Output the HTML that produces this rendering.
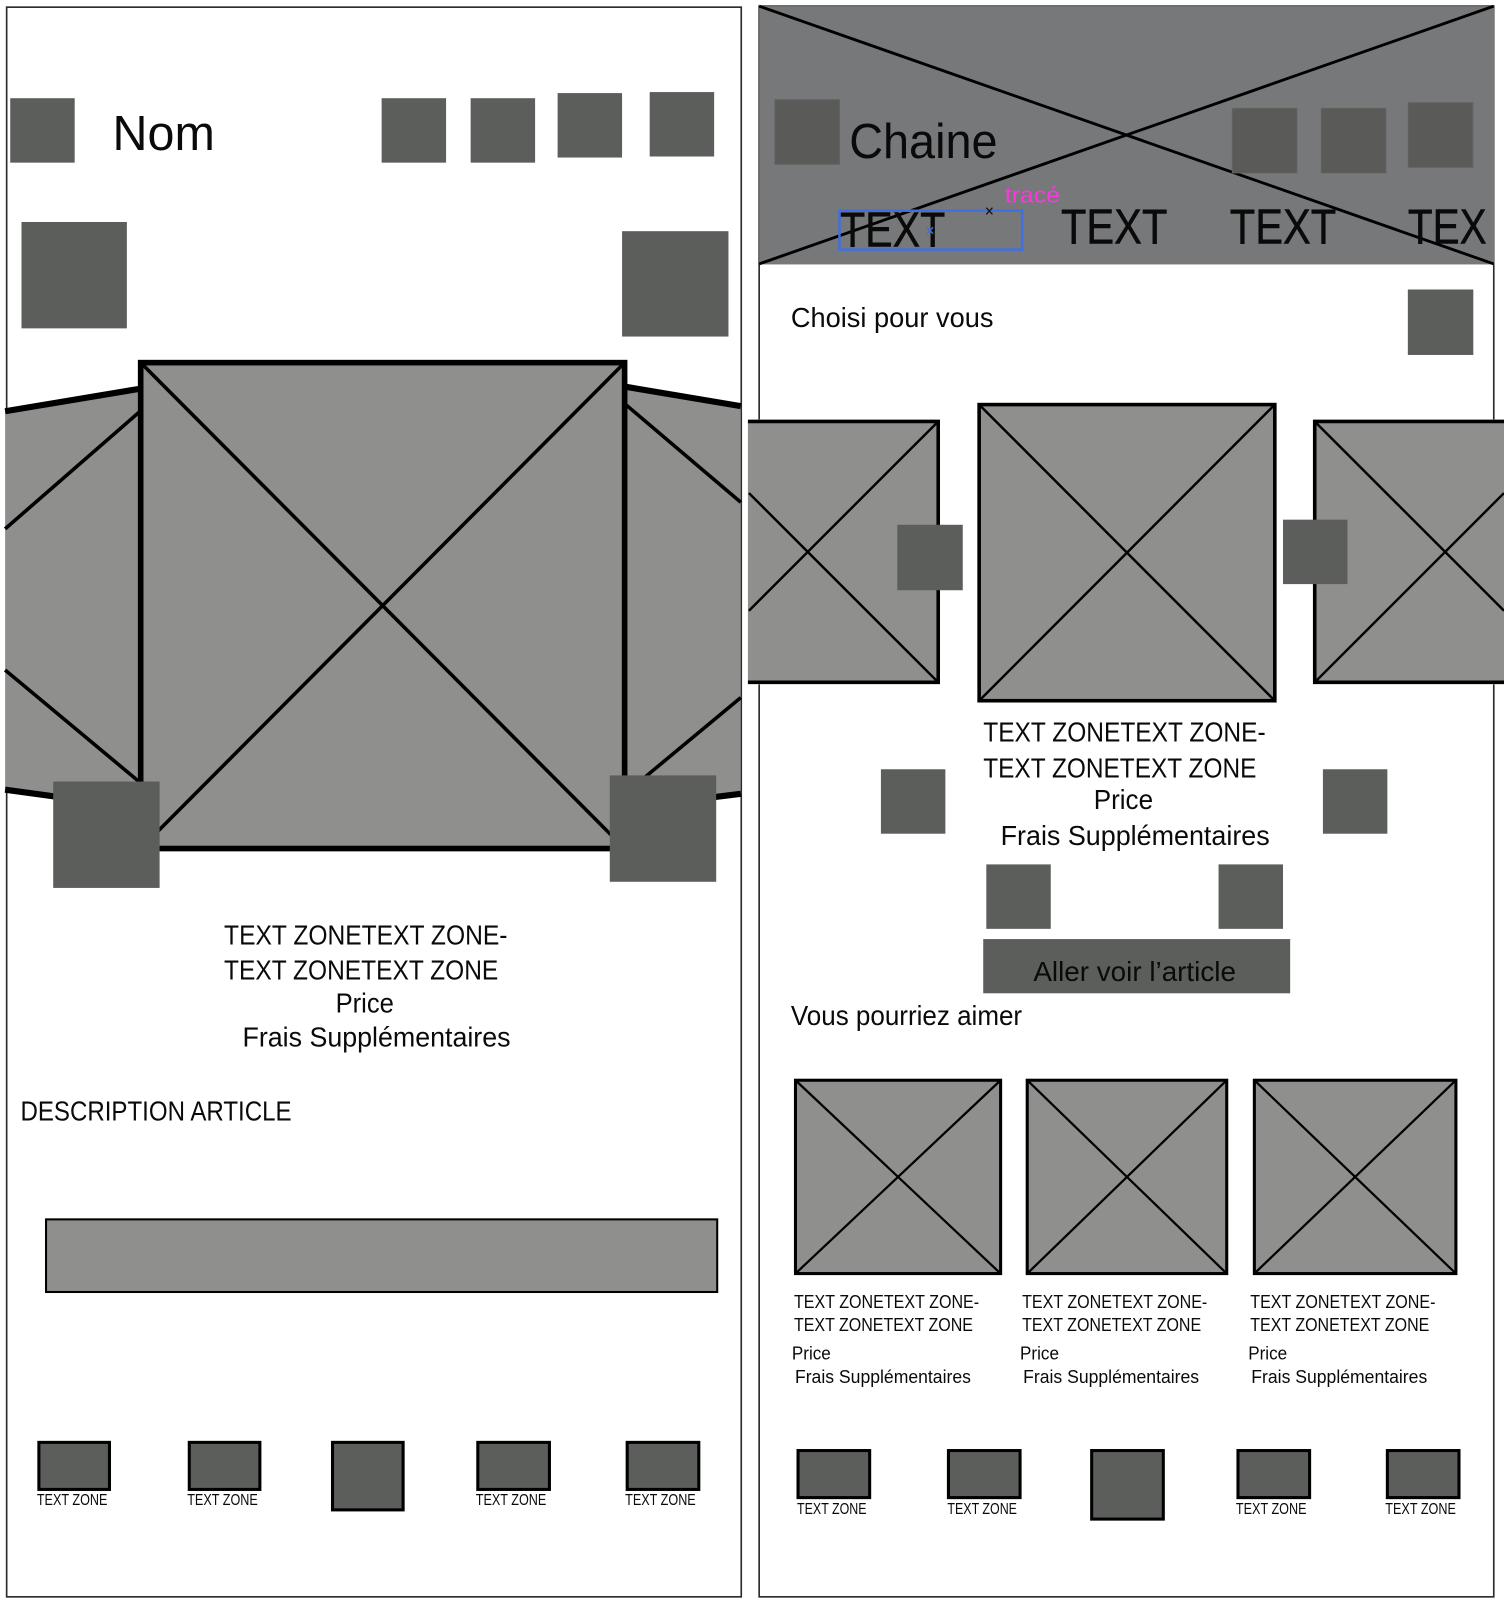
<!DOCTYPE html>
<html><head><meta charset="utf-8"><style>html,body{margin:0;padding:0;background:#fff}svg{display:block}
text{font-family:"Liberation Sans",sans-serif;fill:#0a0a0a}
.d{fill:#5c5e5b}.g{fill:#8f8f8d}.s{fill:#5a5b58;stroke:#606160;stroke-width:1}</style></head><body>
<svg xmlns="http://www.w3.org/2000/svg" width="1504" height="1604" viewBox="0 0 1470 1568" preserveAspectRatio="none">
<rect width="1470" height="1568" fill="#fff"/>
<!-- left frame -->
<rect x="6.5" y="7" width="718" height="1554" fill="#fff" stroke="#2a2a2a" stroke-width="1.6"/>
<g class="d"><rect x="10" y="96" width="63" height="63"/><rect x="373" y="96" width="63" height="63"/><rect x="460" y="96" width="63" height="63"/><rect x="545" y="91" width="63" height="63"/><rect x="635" y="90" width="63" height="63"/><rect x="21" y="217" width="103" height="104"/><rect x="608" y="226" width="104" height="103"/></g>
<text x="110" y="146.500" font-size="48" textLength="100" lengthAdjust="spacingAndGlyphs">Nom</text>
<!-- left carousel -->
<polygon class="g" points="5,402 137,380 137,790 5,772"/>
<polygon class="g" points="611,378 724,397 724,776 611,790"/>
<g stroke="#000" fill="none" stroke-linecap="butt">
<path d="M5 402L137 380M5 772L137 790M611 378L724 397M724 776L611 790" stroke-width="6"/>
<path d="M137 402L5 517M5 655L137 765M611 395L724 491M724 682L630 760" stroke-width="3.500"/>
</g>
<rect class="g" x="137.500" y="354.500" width="473" height="475" stroke="#000" stroke-width="5.500"/>
<path d="M137.500 354.500L610.500 829.500M610.500 354.500L137.500 829.500" stroke="#000" stroke-width="3.500"/>
<rect class="d" x="52" y="764" width="104" height="104"/><rect class="d" x="596" y="758" width="104" height="104"/>
<g font-size="27">
<text x="219" y="923.500" textLength="277" lengthAdjust="spacingAndGlyphs">TEXT ZONETEXT ZONE-</text>
<text x="219" y="957.500" textLength="268" lengthAdjust="spacingAndGlyphs">TEXT ZONETEXT ZONE</text>
<text x="328" y="990" textLength="57" lengthAdjust="spacingAndGlyphs">Price</text>
<text x="237" y="1023" textLength="262" lengthAdjust="spacingAndGlyphs">Frais Supplémentaires</text>
<text x="20" y="1095.500" textLength="265" lengthAdjust="spacingAndGlyphs">DESCRIPTION ARTICLE</text>
</g>
<rect class="g" x="45" y="1192" width="656" height="71" stroke="#000" stroke-width="2"/>
<g class="d" stroke="#000" stroke-width="3"><rect x="38" y="1410" width="69" height="46"/><rect x="185" y="1410" width="69" height="46"/><rect x="325" y="1410" width="69" height="66"/><rect x="467" y="1410" width="70" height="46"/><rect x="613" y="1410" width="70" height="46"/></g>
<g font-size="15">
<text x="36" y="1471" textLength="69" lengthAdjust="spacingAndGlyphs">TEXT ZONE</text>
<text x="183" y="1471" textLength="69" lengthAdjust="spacingAndGlyphs">TEXT ZONE</text>
<text x="465" y="1471" textLength="69" lengthAdjust="spacingAndGlyphs">TEXT ZONE</text>
<text x="611" y="1471" textLength="69" lengthAdjust="spacingAndGlyphs">TEXT ZONE</text>
</g>
<!-- right frame -->
<rect x="742" y="6" width="718" height="1555" fill="#fff" stroke="#2a2a2a" stroke-width="1.6"/>
<rect x="742" y="6" width="718.500" height="252.500" fill="#77787a"/>
<path d="M742 6L1460 258M1460 6L742 258" stroke="#000" stroke-width="2.800"/>
<g class="s"><rect x="757.500" y="97.500" width="63" height="63"/><rect x="1204.500" y="106" width="63" height="63"/><rect x="1291.500" y="106" width="63" height="63"/><rect x="1376.500" y="100.500" width="63" height="63"/></g>
<text x="830" y="154.500" font-size="48" textLength="145" lengthAdjust="spacingAndGlyphs">Chaine</text>
<g font-size="48" stroke="#0a0a0a" stroke-width="0.500">
<text x="821" y="241" textLength="103" lengthAdjust="spacingAndGlyphs">TEXT</text>
<text x="1037" y="238" textLength="104" lengthAdjust="spacingAndGlyphs">TEXT</text>
<text x="1202" y="238" textLength="104" lengthAdjust="spacingAndGlyphs">TEXT</text>
<text x="1376" y="238" textLength="77" lengthAdjust="spacingAndGlyphs">TEX</text>
</g>
<rect x="820.500" y="206" width="178.500" height="38" fill="none" stroke="#3f6fe0" stroke-width="2.400"/>
<text x="982" y="198" font-size="22" textLength="54" lengthAdjust="spacingAndGlyphs" style="fill:#ff35e0">tracé</text>
<path d="M964 203l6 6.500m0-6.500l-6 6.500" stroke="#111" stroke-width="1.200"/>
<path d="M906 222l6 6.500m0-6.500l-6 6.500" stroke="#3f6fe0" stroke-width="1.400"/>
<text x="773" y="319.500" font-size="27" textLength="198" lengthAdjust="spacingAndGlyphs">Choisi pour vous</text>
<rect class="d" x="1376" y="283" width="64" height="64"/>
<!-- right carousel -->
<rect x="731" y="410" width="186" height="259" fill="#fff"/>
<rect x="1285" y="410" width="185" height="259" fill="#fff"/>
<path class="g" d="M731 412H917V667H731Z"/>
<path d="M731 412H917V667H731" fill="none" stroke="#000" stroke-width="3.500"/>
<path d="M917 412L732 597M917 667L732 482" stroke="#000" stroke-width="2.400"/>
<path class="g" d="M1470 412H1285V667H1470Z"/>
<path d="M1470 412H1285V667H1470" fill="none" stroke="#000" stroke-width="3.500"/>
<path d="M1285 412L1470 597M1285 667L1470 482" stroke="#000" stroke-width="2.400"/>
<rect class="g" x="957" y="395.500" width="289" height="289.500" stroke="#000" stroke-width="3.500"/>
<path d="M957 395.500L1246 685M1246 395.500L957 685" stroke="#000" stroke-width="2.400"/>
<g class="d"><rect x="877" y="513" width="64" height="64"/><rect x="1254" y="508" width="63" height="63"/><rect x="861" y="752" width="63" height="63"/><rect x="1293" y="752" width="63" height="63"/><rect x="964" y="845" width="63" height="63"/><rect x="1191" y="845" width="63" height="63"/><rect x="961" y="918" width="300" height="53"/></g>
<g font-size="27">
<text x="961" y="725" textLength="276" lengthAdjust="spacingAndGlyphs">TEXT ZONETEXT ZONE-</text>
<text x="961" y="760" textLength="267" lengthAdjust="spacingAndGlyphs">TEXT ZONETEXT ZONE</text>
<text x="1069" y="791" textLength="58" lengthAdjust="spacingAndGlyphs">Price</text>
<text x="978" y="826" textLength="263" lengthAdjust="spacingAndGlyphs">Frais Supplémentaires</text>
<text x="1010" y="959" textLength="198" lengthAdjust="spacingAndGlyphs">Aller voir l’article</text>
<text x="773" y="1002" textLength="226" lengthAdjust="spacingAndGlyphs">Vous pourriez aimer</text>
</g>
<!-- cards -->
<g stroke="#000">
<rect class="g" x="777.500" y="1056" width="200.500" height="189" stroke-width="3"/>
<rect class="g" x="1004" y="1056" width="195" height="189" stroke-width="3"/>
<rect class="g" x="1226" y="1056" width="197" height="189" stroke-width="3"/>
<path d="M777.500 1056L978 1245M978 1056L777.500 1245M1004 1056L1199 1245M1199 1056L1004 1245M1226 1056L1423 1245M1423 1056L1226 1245" stroke-width="2.200" fill="none"/>
</g>
<g font-size="18">
<text x="776" y="1278.500" textLength="181" lengthAdjust="spacingAndGlyphs">TEXT ZONETEXT ZONE-</text>
<text x="776" y="1301" textLength="175" lengthAdjust="spacingAndGlyphs">TEXT ZONETEXT ZONE</text>
<text x="774" y="1329" textLength="38" lengthAdjust="spacingAndGlyphs">Price</text>
<text x="777" y="1352" textLength="172" lengthAdjust="spacingAndGlyphs">Frais Supplémentaires</text>
<text x="999" y="1278.500" textLength="181" lengthAdjust="spacingAndGlyphs">TEXT ZONETEXT ZONE-</text>
<text x="999" y="1301" textLength="175" lengthAdjust="spacingAndGlyphs">TEXT ZONETEXT ZONE</text>
<text x="997" y="1329" textLength="38" lengthAdjust="spacingAndGlyphs">Price</text>
<text x="1000" y="1352" textLength="172" lengthAdjust="spacingAndGlyphs">Frais Supplémentaires</text>
<text x="1222" y="1278.500" textLength="181" lengthAdjust="spacingAndGlyphs">TEXT ZONETEXT ZONE-</text>
<text x="1222" y="1301" textLength="175" lengthAdjust="spacingAndGlyphs">TEXT ZONETEXT ZONE</text>
<text x="1220" y="1329" textLength="38" lengthAdjust="spacingAndGlyphs">Price</text>
<text x="1223" y="1352" textLength="172" lengthAdjust="spacingAndGlyphs">Frais Supplémentaires</text>
</g>
<g class="d" stroke="#000" stroke-width="3"><rect x="780" y="1418" width="70" height="46"/><rect x="927" y="1418" width="70" height="46"/><rect x="1067" y="1418" width="70" height="67"/><rect x="1210" y="1418" width="70" height="46"/><rect x="1356" y="1418" width="70" height="46"/></g>
<g font-size="15">
<text x="779" y="1480" textLength="68" lengthAdjust="spacingAndGlyphs">TEXT ZONE</text>
<text x="926" y="1480" textLength="68" lengthAdjust="spacingAndGlyphs">TEXT ZONE</text>
<text x="1208" y="1480" textLength="69" lengthAdjust="spacingAndGlyphs">TEXT ZONE</text>
<text x="1354" y="1480" textLength="69" lengthAdjust="spacingAndGlyphs">TEXT ZONE</text>
</g>
</svg>
</body></html>
